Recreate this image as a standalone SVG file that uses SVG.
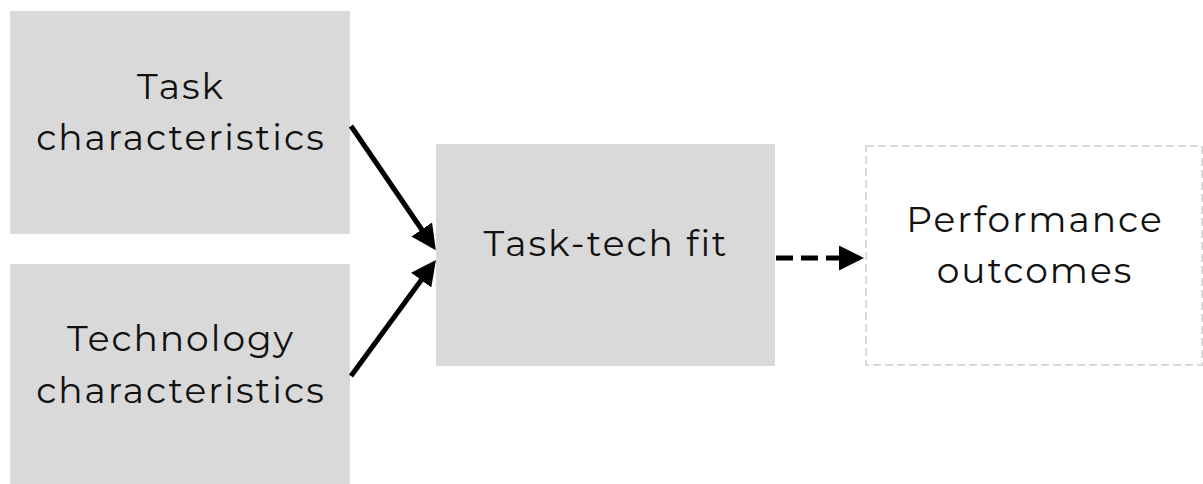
<svg xmlns="http://www.w3.org/2000/svg" width="1203" height="484" viewBox="0 0 1203 484">
<style>
.box{fill:#d9d9d9}
.dbox{fill:#fff;stroke:#d9d9d9;stroke-width:2;stroke-dasharray:8 4}
.t{font-family:"Montserrat","Noto Sans","Liberation Sans",sans-serif;font-size:36px;fill:#111;text-anchor:middle;letter-spacing:2px}
.c{stroke:#000;stroke-width:5;fill:none}
</style>
<defs>
<marker id="ah" markerWidth="5" markerHeight="5" refX="4" refY="2.5" orient="auto" markerUnits="strokeWidth">
<path d="M0,0 L5,2.5 L0,5 Z" fill="#000"/>
</marker>
</defs>
<rect width="1203" height="484" fill="#fff"/>
<g id="task">
<rect class="box" x="10" y="11" width="340" height="223"/>
<text class="t" x="181" y="99">Task</text>
<text class="t" x="181" y="150">characteristics</text>
</g>
<g id="tech">
<rect class="box" x="10" y="264" width="340" height="220"/>
<text class="t" x="181" y="351">Technology</text>
<text class="t" x="181" y="403">characteristics</text>
</g>
<g id="fit">
<rect class="box" x="436" y="144" width="339" height="222"/>
<text class="t" x="606" y="256">Task-tech fit</text>
</g>
<g id="perf">
<rect class="dbox" x="866" y="146" width="336" height="219"/>
<text class="t" x="1035" y="232">Performance</text>
<text class="t" x="1035" y="283">outcomes</text>
</g>
<g id="connectors">
<line class="c" x1="351" y1="126" x2="433" y2="246" marker-end="url(#ah)"/>
<line class="c" x1="351" y1="376" x2="433" y2="264" marker-end="url(#ah)"/>
<line class="c" x1="776" y1="258" x2="859" y2="258" stroke-dasharray="17 8" marker-end="url(#ah)"/>
</g>
</svg>
